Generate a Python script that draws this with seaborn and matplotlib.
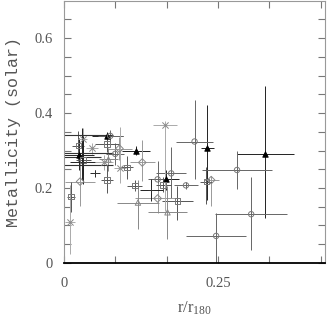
import numpy as np
import pandas as pd
import matplotlib
matplotlib.use("Agg")
import matplotlib.pyplot as plt
import seaborn as sns

# filled triangles (black)
tri_f_x = [0.024, 0.070, 0.117, 0.165, 0.233, 0.327]
tri_f_y = [0.288, 0.339, 0.300, 0.224, 0.308, 0.291]
tri_f_xerr = [0.025, 0.025, 0.023, 0.022, 0.010, 0.046]
tri_f_ylo = [0.040, 0.010, 0.012, 0.030, 0.140, 0.170]
tri_f_yhi = [0.045, 0.010, 0.012, 0.025, 0.113, 0.180]

# open circles
circ_x = [0.212, 0.281, 0.304, 0.247, 0.174, 0.075, 0.083, 0.152, 0.198]
circ_y = [0.324, 0.248, 0.130, 0.072, 0.239, 0.339, 0.291, 0.223, 0.207]
circ_xerr = [0.030, 0.057, 0.058, 0.049, 0.024, 0.020, 0.015, 0.015, 0.020]
circ_ylo = [0.100, 0.050, 0.095, 0.072, 0.065, 0.015, 0.030, 0.030, 0.010]
circ_yhi = [0.110, 0.050, 0.100, 0.060, 0.070, 0.015, 0.030, 0.050, 0.010]

# diamonds
diam_x = [0.026, 0.127, 0.152, 0.239, 0.090]
diam_y = [0.217, 0.268, 0.172, 0.221, 0.305]
diam_xerr = [0.025, 0.020, 0.036, 0.012, 0.020]
diam_ylo = [0.065, 0.050, 0.040, 0.070, 0.030]
diam_yhi = [0.065, 0.060, 0.040, 0.010, 0.030]

# open squares
sq_x = [0.011, 0.023, 0.031, 0.070, 0.070, 0.102, 0.115, 0.161, 0.184, 0.231]
sq_y = [0.177, 0.313, 0.275, 0.221, 0.317, 0.255, 0.206, 0.208, 0.165, 0.217]
sq_xerr = [0.006, 0.010, 0.012, 0.010, 0.020, 0.010, 0.012, 0.012, 0.025, 0.010]
sq_ylo = [0.040, 0.040, 0.040, 0.035, 0.020, 0.030, 0.015, 0.020, 0.050, 0.060]
sq_yhi = [0.040, 0.040, 0.040, 0.040, 0.020, 0.030, 0.015, 0.020, 0.040, 0.040]

# open triangles
tri_o_x = [0.120, 0.168, 0.072]
tri_o_y = [0.161, 0.135, 0.276]
tri_o_xerr = [0.034, 0.031, 0.015]
tri_o_ylo = [0.070, 0.070, 0.030]
tri_o_yhi = [0.060, 0.070, 0.030]

# crosses
x_x = [0.009, 0.164, 0.045, 0.091, 0.065, 0.030]
x_y = [0.108, 0.368, 0.306, 0.252, 0.268, 0.330]
x_xerr = [0.008, 0.020, 0.010, 0.010, 0.015, 0.008]
x_ylo = [0.085, 0.230, 0.015, 0.040, 0.020, 0.030]
x_yhi = [0.100, 0.010, 0.015, 0.110, 0.020, 0.030]

# plus signs
p_x = [0.050, 0.029, 0.142, 0.030]
p_y = [0.239, 0.261, 0.195, 0.270]
p_xerr = [0.008, 0.037, 0.019, 0.020]
p_ylo = [0.010, 0.040, 0.030, 0.060]
p_yhi = [0.010, 0.100, 0.030, 0.070]

# long horizontal bars from the centre (no symbol visible)
bar_x = [0.040, 0.040, 0.030, 0.040]
bar_y = [0.342, 0.293, 0.283, 0.262]
bar_xerr = [0.040, 0.040, 0.030, 0.040]

series = [
    ("tri_f", tri_f_x, tri_f_y, tri_f_xerr, tri_f_ylo, tri_f_yhi, "^", "black", "black"),
    ("circ", circ_x, circ_y, circ_xerr, circ_ylo, circ_yhi, "o", "none", "#777777"),
    ("diam", diam_x, diam_y, diam_xerr, diam_ylo, diam_yhi, "D", "none", "#888888"),
    ("sq", sq_x, sq_y, sq_xerr, sq_ylo, sq_yhi, "s", "none", "#777777"),
    ("tri_o", tri_o_x, tri_o_y, tri_o_xerr, tri_o_ylo, tri_o_yhi, "^", "none", "#888888"),
    ("x", x_x, x_y, x_xerr, x_ylo, x_yhi, "x", "#888888", "#888888"),
    ("plus", p_x, p_y, p_xerr, p_ylo, p_yhi, "+", "#333333", "#333333"),
]

sns.set_style("ticks")
plt.rcParams["mathtext.default"] = "regular"

fig = plt.figure(figsize=(3.27, 3.21), dpi=100)
ax = fig.add_axes([0.196, 0.181, 0.798, 0.817])

ecolors = ["#222222", "#666666", "#999999", "#555555", "#888888", "#aaaaaa", "#222222"]
for (name, xs, ys, xe, ylo, yhi, mk, fc, ec), errc in zip(series, ecolors):
    ax.errorbar(xs, ys, xerr=xe, yerr=[ylo, yhi], fmt="none",
                ecolor=errc, elinewidth=0.7, capsize=0, zorder=2)
    df = pd.DataFrame({"x": xs, "y": ys})
    if mk in ("x", "+"):
        sns.scatterplot(data=df, x="x", y="y", marker=mk, color=ec, s=20,
                        linewidth=0.7, ax=ax, zorder=3)
    else:
        sns.scatterplot(data=df, x="x", y="y", marker=mk, facecolor=fc,
                        edgecolor=ec, s=15, linewidth=0.7, ax=ax, zorder=3)

ax.errorbar(bar_x, bar_y, xerr=bar_xerr, fmt="none", ecolor="#333333",
            elinewidth=0.8, capsize=0, zorder=2)

ax.set_xlim(0, 0.424)
ax.set_ylim(0, 0.70)
ax.set_xticks([i / 12 for i in range(0, 6)])
ax.set_xticklabels(["0", "", "", "0.25", "", ""])
ax.set_yticks(np.arange(0, 0.70, 0.05))
ax.set_yticklabels(["0", "", "", "", "0.2", "", "", "", "0.4", "", "", "", "0.6", ""])
ax.tick_params(direction="in", top=True, right=True, length=5, width=0.8,
               colors="#777777", labelcolor="#555555", labelsize=10.5)
ax.tick_params(axis="x", pad=10)
ax.tick_params(axis="y", pad=8)
for lab in ax.get_xticklabels() + ax.get_yticklabels():
    lab.set_family("Liberation Serif")

for side in ["top", "right", "left"]:
    ax.spines[side].set_color("#999999")
    ax.spines[side].set_linewidth(0.8)
ax.spines["bottom"].set_color("black")
ax.spines["bottom"].set_linewidth(1.3)

ax.set_xlabel("r/r$_{180}$", family="Liberation Serif", fontsize=12,
              color="#555555", labelpad=7)
ax.set_ylabel("Metallicity (solar)", family="Liberation Mono", fontsize=12,
              color="#555555", labelpad=10)

fig.savefig("out.png", dpi=100)
